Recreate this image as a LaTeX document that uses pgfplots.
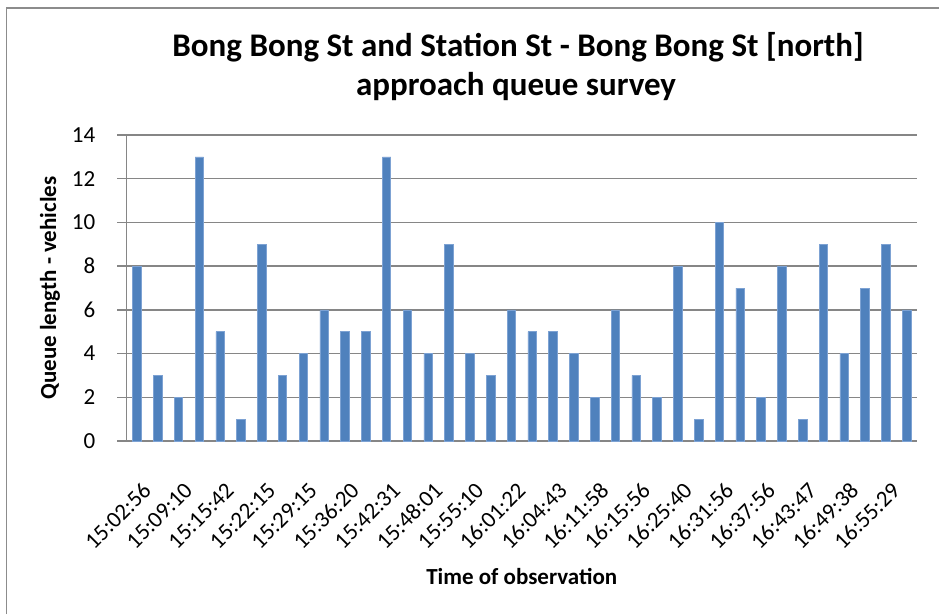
\documentclass[border=0pt]{standalone}
\usepackage{pgfplots}
\pgfplotsset{compat=1.18}
\usepackage{fontspec}
\setmainfont{Carlito}
\definecolor{barblue}{HTML}{4F81BD}
\definecolor{baredge}{HTML}{7DA2D3}
\definecolor{gridgray}{HTML}{868686}
\definecolor{framegray}{HTML}{8C8C8C}

\pgfplotstableread{
idx val
0 8
1 3
2 2
3 13
4 5
5 1
6 9
7 3
8 4
9 6
10 5
11 5
12 13
13 6
14 4
15 9
16 4
17 3
18 6
19 5
20 5
21 4
22 2
23 6
24 3
25 2
26 8
27 1
28 10
29 7
30 2
31 8
32 1
33 9
34 4
35 7
36 9
37 6
}\queuedata

\begin{document}
\begin{tikzpicture}
\path[use as bounding box] (0,0) rectangle (939pt,614pt);
\draw[framegray, line width=1.5pt] (6.5pt,0) -- (6.5pt,606pt) -- (939pt,606pt);

\begin{axis}[
    at={(126.5pt,173pt)}, anchor=south west,
    scale only axis,
    width=790.5pt, height=306pt,
    ybar, bar width=8.5pt,
    xmin=-0.5, xmax=37.5,
    ymin=0, ymax=14,
    ytick={0,2,...,14},
    xtick={0,2,...,36},
    xticklabels={15:02:56,15:09:10,15:15:42,15:22:15,15:29:15,15:36:20,15:42:31,15:48:01,15:55:10,16:01:22,16:04:43,16:11:58,16:15:56,16:25:40,16:31:56,16:37:56,16:43:47,16:49:38,16:55:29},
    axis x line*=bottom, axis y line*=left,
    axis line style={gridgray, line width=1.5pt},
    ymajorgrids, grid style={gridgray, line width=1.5pt},
    tick align=outside, major tick length=9pt,
    ytick style={gridgray, line width=1.5pt},
    xtick style={draw=none},
    /pgf/number format/assume math mode=true,
    tick label style={font=\fontsize{23}{27}\selectfont, inner sep=0pt},
    yticklabel style={anchor=east, xshift=-22pt},
    xticklabel style={xshift=4.5pt, yshift=-31pt, rotate=45, anchor=north east},
    xlabel={Time of observation},
    ylabel={Queue length - vehicles},
    label style={font=\bfseries\fontsize{23}{27}\selectfont},
    xlabel style={at={(axis description cs:0.5,-0.444)}, anchor=center},
    ylabel style={at={(axis description cs:-0.0968,0.5)}, anchor=center},
]
\addplot[fill=barblue, draw=baredge, line width=0.6pt] table[x=idx, y=val] {\queuedata};
\end{axis}

\node[anchor=base, font=\bfseries\fontsize{33}{39}\selectfont] at (518pt,557pt) {Bong Bong St and Station St - Bong Bong St [north]};
\node[anchor=base, font=\bfseries\fontsize{33}{39}\selectfont] at (516pt,518pt) {approach queue survey};
\end{tikzpicture}
\end{document}
